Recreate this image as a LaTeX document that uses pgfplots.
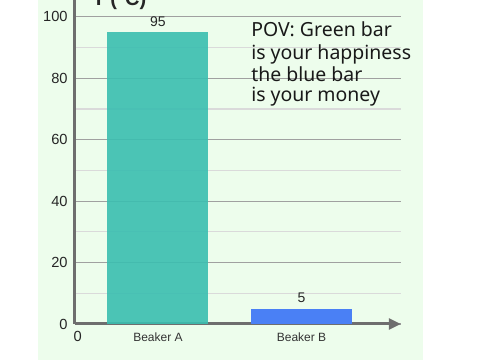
\documentclass[border=0pt]{standalone}
\usepackage{fontspec}
\setmainfont{Liberation Sans}
\newfontfamily\notesans{Noto Sans}
\usepackage{pgfplots}
\pgfplotsset{compat=1.18}
\usetikzlibrary{arrows.meta}
\definecolor{bgc}{RGB}{237,253,236}
\definecolor{barA}{RGB}{58,190,176}
\definecolor{barB}{RGB}{74,128,245}
\definecolor{axc}{RGB}{110,110,110}
\definecolor{majg}{RGB}{160,160,160}
\definecolor{ming}{RGB}{218,218,218}
\begin{document}
\begin{tikzpicture}
\path[use as bounding box] (-56.25pt,-27pt) rectangle (303.75pt,243pt);
\clip (-56.25pt,-27pt) rectangle (303.75pt,243pt);
\fill[bgc] (-27.75pt,-27pt) rectangle (261pt,243pt);
\begin{axis}[
  scale only axis,
  width=244.5pt, height=243pt,
  xmin=-0.578, xmax=1.693,
  ymin=0, ymax=105.5,
  axis lines=left,
  axis line style={axc, line width=2.25pt},
  x axis line style={-{Triangle[length=9pt,width=8pt]}},
  y axis line style={-},
  xtick={0,1},
  xticklabels={Beaker A, Beaker B},
  x tick label style={font=\fontsize{9}{10}\selectfont, text=black!80, yshift=-3pt},
  ytick={0,20,40,60,80,100},
  minor ytick={10,30,50,70,90},
  y tick label style={font=\fontsize{11}{12}\selectfont, text=black!85, xshift=-2pt},
  /pgf/number format/assume math mode=true,
  major tick length=0pt, minor tick length=0pt,
  ymajorgrids, yminorgrids,
  major grid style={majg, line width=0.9pt},
  minor grid style={ming, line width=0.9pt},
  ybar, bar width=75.75pt, bar shift=0pt,
  nodes near coords,
  every node near coord/.append style={font=\fontsize{10.5}{12}\selectfont, text=black!85, yshift=1pt},
  clip=false,
]
\addplot[fill=barA, fill opacity=0.9, draw=none, text opacity=1] coordinates {(0,95)};
\addplot[fill=barB, draw=none] coordinates {(1,5)};
\node[anchor=north, font=\fontsize{11}{12}\selectfont, text=black!85] at (axis cs:-0.578,0) [yshift=-2pt, xshift=2pt] {0};
\end{axis}
\node[anchor=base west, font=\bfseries\fontsize{15}{18}\selectfont, text=black!85] at (9.75pt,239pt) {T (°C)};
\begin{scope}[font=\notesans\fontsize{14.6}{17}\selectfont, text=black!90]
\node[anchor=base west, inner sep=0pt] at (132pt,215.5pt) {POV: Green bar};
\node[anchor=base west, inner sep=0pt] at (132pt,198.5pt) {is your happiness};
\node[anchor=base west, inner sep=0pt] at (132pt,182.2pt) {the blue bar};
\node[anchor=base west, inner sep=0pt] at (132pt,166.7pt) {is your money};
\end{scope}
\end{tikzpicture}
\end{document}
